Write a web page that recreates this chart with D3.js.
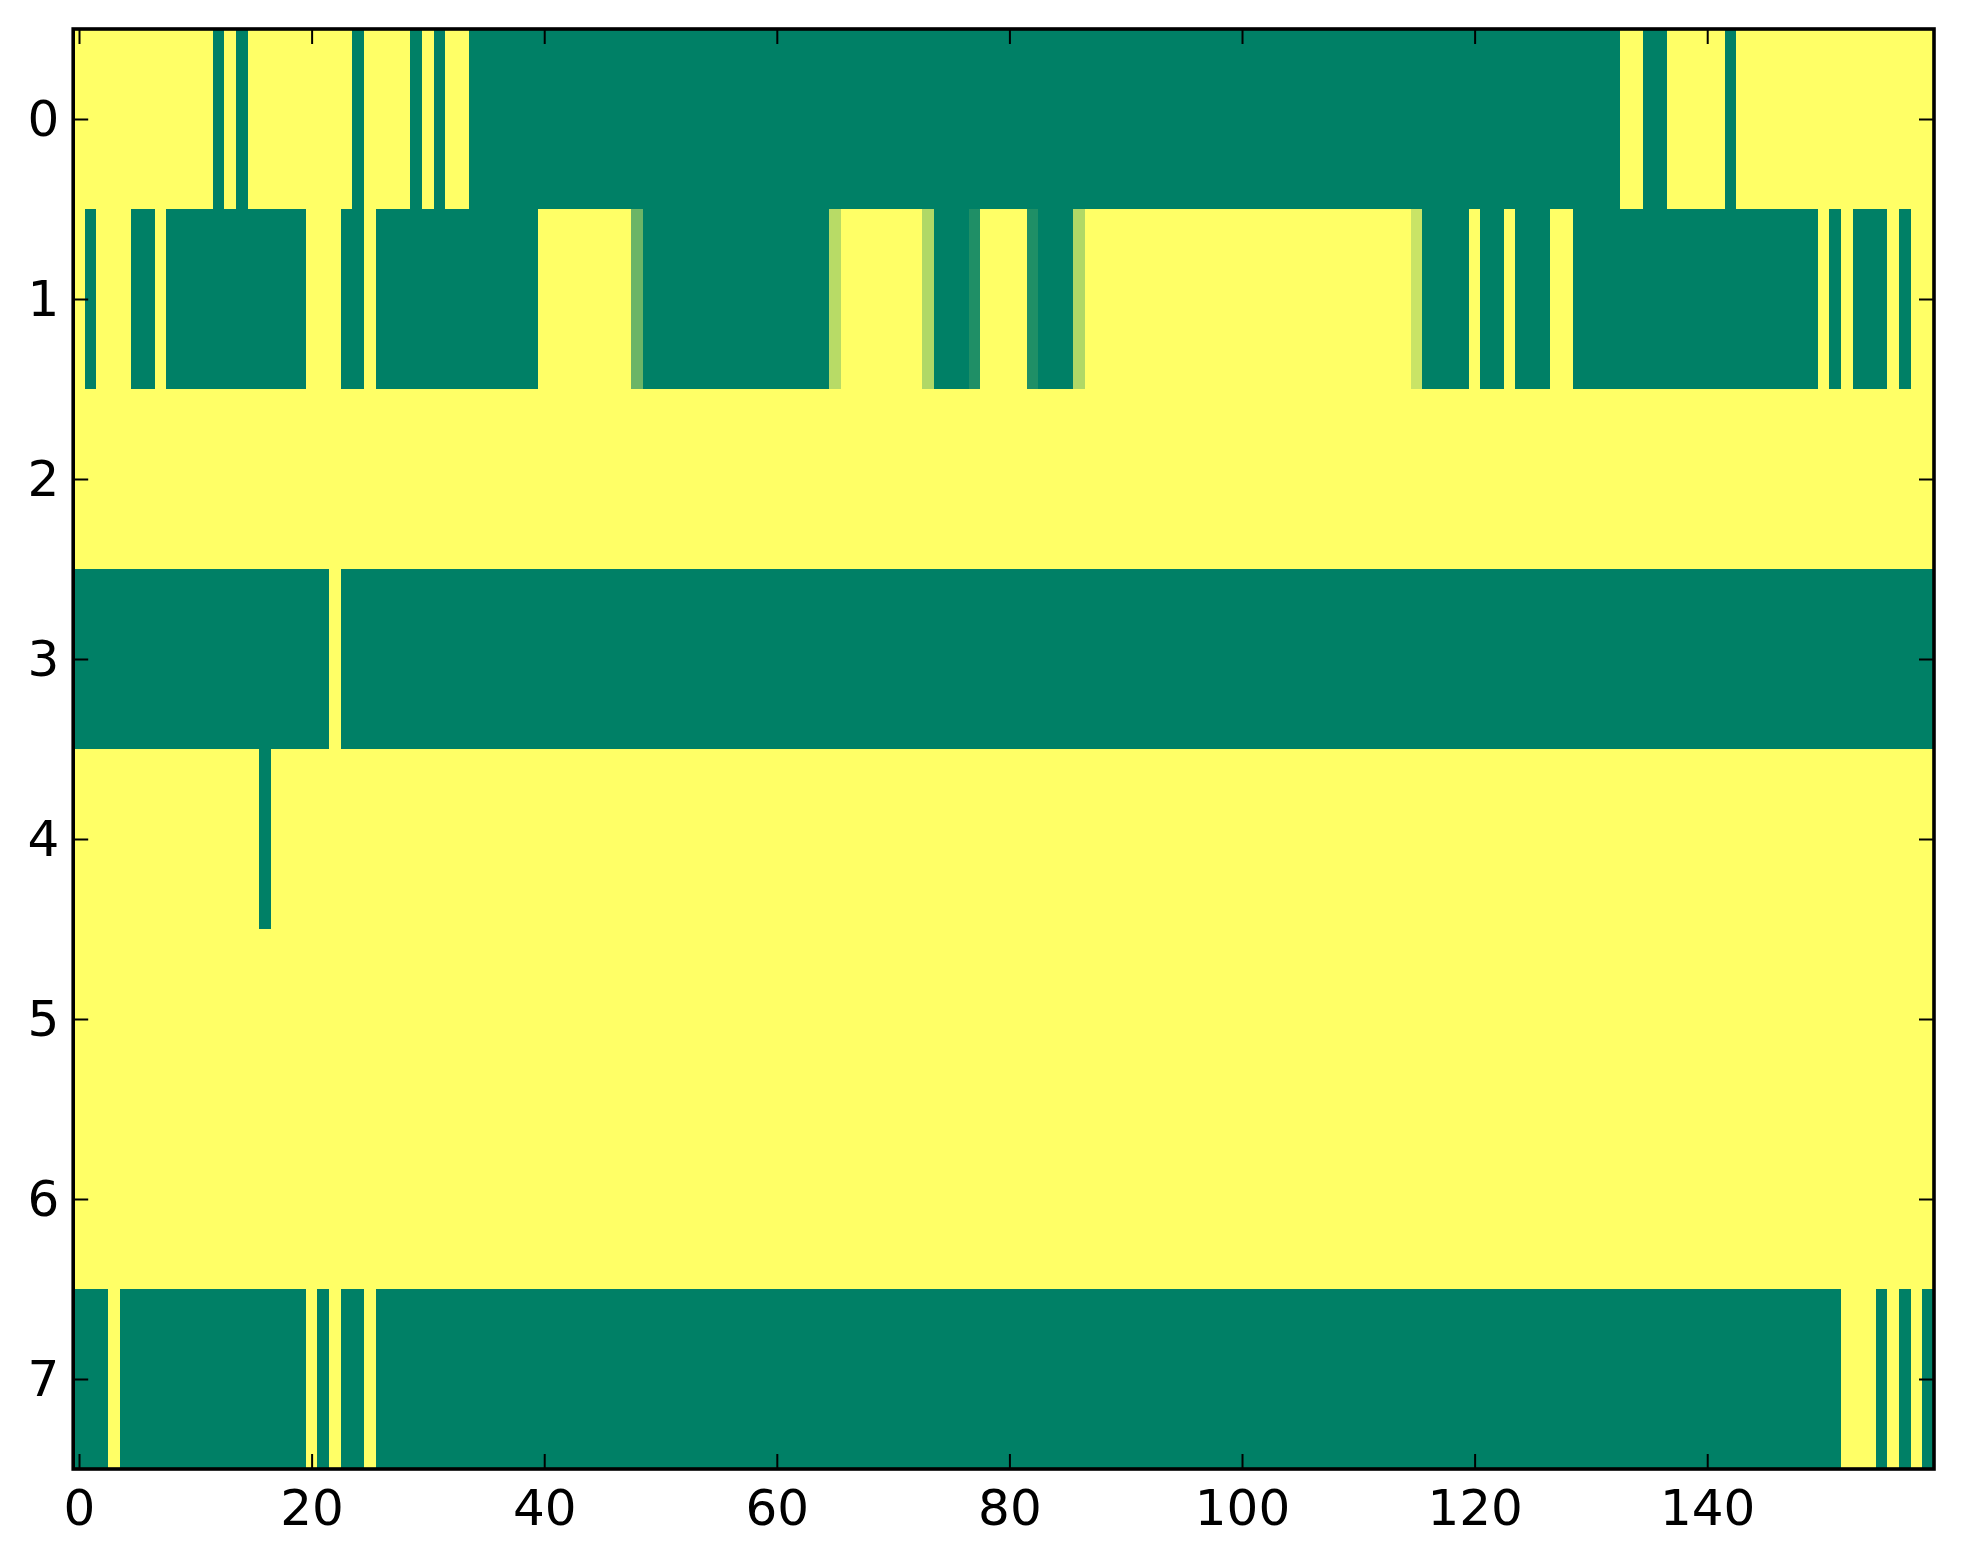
<!DOCTYPE html>
<meta charset="utf-8">

<script src="https://d3js.org/d3.v7.min.js"></script>

<style type="text/css">
  body { margin: 0; background: #fff; }
  text { font-family: "DejaVu Sans", sans-serif; }
</style>

<body>
</body>

<script>

// one array per image row, 160 values each (0 = green end, 1 = yellow end)
var row0 = [1,1,1,1,1,1,1,1,1,1, 1,1,0,1,0,1,1,1,1,1,
            1,1,1,1,0,1,1,1,1,0, 1,0,1,1,0,0,0,0,0,0,
            0,0,0,0,0,0,0,0,0,0, 0,0,0,0,0,0,0,0,0,0,
            0,0,0,0,0,0,0,0,0,0, 0,0,0,0,0,0,0,0,0,0,
            0,0,0,0,0,0,0,0,0,0, 0,0,0,0,0,0,0,0,0,0,
            0,0,0,0,0,0,0,0,0,0, 0,0,0,0,0,0,0,0,0,0,
            0,0,0,0,0,0,0,0,0,0, 0,0,0,1,1,0,0,1,1,1,
            1,1,0,1,1,1,1,1,1,1, 1,1,1,1,1,1,1,1,1,1];

var row1 = [1,0,1,1,1,0,0,1,0,0, 0,0,0,0,0,0,0,0,0,0,
            1,1,1,0,0,1,0,0,0,0, 0,0,0,0,0,0,0,0,0,0,
            1,1,1,1,1,1,1,1,.42,0, 0,0,0,0,0,0,0,0,0,0,
            0,0,0,0,0,.72,1,1,1,1, 1,1,1,.69,0,0,0,.12,1,1,
            1,1,.12,0,0,0,.69,1,1,1, 1,1,1,1,1,1,1,1,1,1,
            1,1,1,1,1,1,1,1,1,1, 1,1,1,1,1,.79,0,0,0,0,
            1,0,0,1,0,0,0,1,1,0, 0,0,0,0,0,0,0,0,0,0,
            0,0,0,0,0,0,0,0,0,0, 1,0,1,0,0,0,1,0,1,1];

var row2 = [1,1,1,1,1,1,1,1,1,1, 1,1,1,1,1,1,1,1,1,1,
            1,1,1,1,1,1,1,1,1,1, 1,1,1,1,1,1,1,1,1,1,
            1,1,1,1,1,1,1,1,1,1, 1,1,1,1,1,1,1,1,1,1,
            1,1,1,1,1,1,1,1,1,1, 1,1,1,1,1,1,1,1,1,1,
            1,1,1,1,1,1,1,1,1,1, 1,1,1,1,1,1,1,1,1,1,
            1,1,1,1,1,1,1,1,1,1, 1,1,1,1,1,1,1,1,1,1,
            1,1,1,1,1,1,1,1,1,1, 1,1,1,1,1,1,1,1,1,1,
            1,1,1,1,1,1,1,1,1,1, 1,1,1,1,1,1,1,1,1,1];

var row3 = [0,0,0,0,0,0,0,0,0,0, 0,0,0,0,0,0,0,0,0,0,
            0,0,1,0,0,0,0,0,0,0, 0,0,0,0,0,0,0,0,0,0,
            0,0,0,0,0,0,0,0,0,0, 0,0,0,0,0,0,0,0,0,0,
            0,0,0,0,0,0,0,0,0,0, 0,0,0,0,0,0,0,0,0,0,
            0,0,0,0,0,0,0,0,0,0, 0,0,0,0,0,0,0,0,0,0,
            0,0,0,0,0,0,0,0,0,0, 0,0,0,0,0,0,0,0,0,0,
            0,0,0,0,0,0,0,0,0,0, 0,0,0,0,0,0,0,0,0,0,
            0,0,0,0,0,0,0,0,0,0, 0,0,0,0,0,0,0,0,0,0];

var row4 = [1,1,1,1,1,1,1,1,1,1, 1,1,1,1,1,1,0,1,1,1,
            1,1,1,1,1,1,1,1,1,1, 1,1,1,1,1,1,1,1,1,1,
            1,1,1,1,1,1,1,1,1,1, 1,1,1,1,1,1,1,1,1,1,
            1,1,1,1,1,1,1,1,1,1, 1,1,1,1,1,1,1,1,1,1,
            1,1,1,1,1,1,1,1,1,1, 1,1,1,1,1,1,1,1,1,1,
            1,1,1,1,1,1,1,1,1,1, 1,1,1,1,1,1,1,1,1,1,
            1,1,1,1,1,1,1,1,1,1, 1,1,1,1,1,1,1,1,1,1,
            1,1,1,1,1,1,1,1,1,1, 1,1,1,1,1,1,1,1,1,1];

var row5 = [1,1,1,1,1,1,1,1,1,1, 1,1,1,1,1,1,1,1,1,1,
            1,1,1,1,1,1,1,1,1,1, 1,1,1,1,1,1,1,1,1,1,
            1,1,1,1,1,1,1,1,1,1, 1,1,1,1,1,1,1,1,1,1,
            1,1,1,1,1,1,1,1,1,1, 1,1,1,1,1,1,1,1,1,1,
            1,1,1,1,1,1,1,1,1,1, 1,1,1,1,1,1,1,1,1,1,
            1,1,1,1,1,1,1,1,1,1, 1,1,1,1,1,1,1,1,1,1,
            1,1,1,1,1,1,1,1,1,1, 1,1,1,1,1,1,1,1,1,1,
            1,1,1,1,1,1,1,1,1,1, 1,1,1,1,1,1,1,1,1,1];

var row6 = [1,1,1,1,1,1,1,1,1,1, 1,1,1,1,1,1,1,1,1,1,
            1,1,1,1,1,1,1,1,1,1, 1,1,1,1,1,1,1,1,1,1,
            1,1,1,1,1,1,1,1,1,1, 1,1,1,1,1,1,1,1,1,1,
            1,1,1,1,1,1,1,1,1,1, 1,1,1,1,1,1,1,1,1,1,
            1,1,1,1,1,1,1,1,1,1, 1,1,1,1,1,1,1,1,1,1,
            1,1,1,1,1,1,1,1,1,1, 1,1,1,1,1,1,1,1,1,1,
            1,1,1,1,1,1,1,1,1,1, 1,1,1,1,1,1,1,1,1,1,
            1,1,1,1,1,1,1,1,1,1, 1,1,1,1,1,1,1,1,1,1];

var row7 = [0,0,0,1,0,0,0,0,0,0, 0,0,0,0,0,0,0,0,0,0,
            1,0,1,0,0,1,0,0,0,0, 0,0,0,0,0,0,0,0,0,0,
            0,0,0,0,0,0,0,0,0,0, 0,0,0,0,0,0,0,0,0,0,
            0,0,0,0,0,0,0,0,0,0, 0,0,0,0,0,0,0,0,0,0,
            0,0,0,0,0,0,0,0,0,0, 0,0,0,0,0,0,0,0,0,0,
            0,0,0,0,0,0,0,0,0,0, 0,0,0,0,0,0,0,0,0,0,
            0,0,0,0,0,0,0,0,0,0, 0,0,0,0,0,0,0,0,0,0,
            0,0,0,0,0,0,0,0,0,0, 0,0,1,1,1,0,1,0,1,0];

var rows = [row0, row1, row2, row3, row4, row5, row6, row7];

var xTicks = [0, 20, 40, 60, 80, 100, 120, 140];
var yTicks = [0, 1, 2, 3, 4, 5, 6, 7];

var W = 1963, H = 1564;
var margin = {top: 29, right: 29, bottom: 95, left: 73.2};

var svg = d3.select("body").append("svg")
    .attr("width", W)
    .attr("height", H);

svg.append("rect").attr("width", W).attr("height", H).attr("fill", "#fff");

var x = d3.scaleLinear().domain([-0.5, 159.5]).range([margin.left, W - margin.right]);
var y = d3.scaleLinear().domain([-0.5, 7.5]).range([margin.top, H - margin.bottom]);

// matplotlib "summer": (v, 0.5 + v/2, 0.4)
var color = d3.scaleLinear().domain([0, 1]).range(["#008066", "#ffff66"]);

var cells = [];
rows.forEach(function(r, i) {
  r.forEach(function(v, j) { cells.push({row: i, col: j, v: v}); });
});

svg.append("g")
  .selectAll("rect")
    .data(cells)
  .enter().append("rect")
    .attr("x", function(d) { return x(d.col - 0.5); })
    .attr("y", function(d) { return y(d.row - 0.5); })
    .attr("width", x(1) - x(0) + 0.4)
    .attr("height", y(1) - y(0) + 0.4)
    .attr("fill", function(d) { return color(d.v); })
    .attr("shape-rendering", "crispEdges");

var tickLen = 15;

function styleAxis(g) {
  g.select(".domain").remove();
  g.selectAll(".tick line").attr("stroke", "#000").attr("stroke-width", 2);
  g.selectAll(".tick text").attr("fill", "#000").style("font-size", "50px");
}

svg.append("g")
    .attr("transform", "translate(0," + y(7.5) + ")")
    .call(d3.axisBottom(x).tickValues(xTicks).tickSize(-tickLen).tickPadding(20))
    .call(styleAxis);

svg.append("g")
    .attr("transform", "translate(0," + y(-0.5) + ")")
    .call(d3.axisTop(x).tickValues(xTicks).tickSize(-tickLen).tickFormat(""))
    .call(styleAxis);

svg.append("g")
    .attr("transform", "translate(" + x(-0.5) + ",0)")
    .call(d3.axisLeft(y).tickValues(yTicks).tickSize(-tickLen).tickPadding(14))
    .call(styleAxis);

svg.append("g")
    .attr("transform", "translate(" + x(159.5) + ",0)")
    .call(d3.axisRight(y).tickValues(yTicks).tickSize(-tickLen).tickFormat(""))
    .call(styleAxis);

// frame
svg.append("rect")
    .attr("x", x(-0.5))
    .attr("y", y(-0.5))
    .attr("width", x(159.5) - x(-0.5))
    .attr("height", y(7.5) - y(-0.5))
    .attr("fill", "none")
    .attr("stroke", "#000")
    .attr("stroke-width", 3.6);

</script>
